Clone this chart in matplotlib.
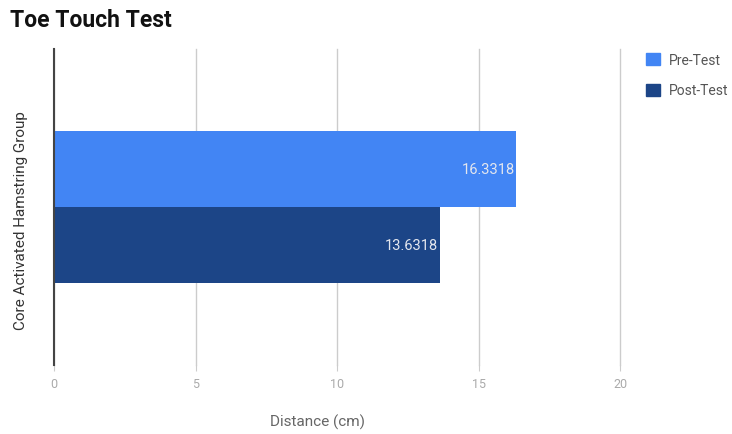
import matplotlib.pyplot as plt
from matplotlib.patches import Patch

plt.rcParams['font.family'] = ['Roboto', 'DejaVu Sans']

group = "Core Activated Hamstring Group"
series = ["Pre-Test", "Post-Test"]
values = [16.3318, 13.6318]
colors = ["#4285f4", "#1c4587"]
xticks = [0, 5, 10, 15, 20]

fig = plt.figure(figsize=(7.32, 4.35), dpi=100)
ax = fig.add_axes([0.0738, 0.159, 0.7732, 0.726])

h = 0.24
offsets = [h / 2, -h / 2]
for name, v, c, off in zip(series, values, colors, offsets):
    ax.barh(off, v, height=h, color=c, zorder=3)
    ax.text(v - 0.05, off, f"{v:g}", ha="right", va="center",
            color="#e3e6ee", fontsize=10.5, zorder=4)

ax.set_xlim(0, 20)
ax.set_ylim(-0.5, 0.5)
ax.set_xticks(xticks)
ax.set_xticklabels([str(t) for t in xticks], color="#aaaaaa", fontsize=9)
ax.tick_params(axis="x", length=4, color="#cccccc", pad=5)
ax.set_yticks([])
ax.grid(axis="x", color="#cccccc", linewidth=1, zorder=0)
# keep the last gridline from being clipped at the axes edge
for gl in ax.get_xgridlines():
    gl.set_clip_on(False)

for s in ["top", "right", "bottom"]:
    ax.spines[s].set_visible(False)
ax.spines["left"].set_color("#444444")
ax.spines["left"].set_linewidth(1.5)
ax.spines["left"].set_zorder(5)

ax.set_xlabel("Distance (cm)", color="#666666", fontsize=11)
ax.xaxis.set_label_coords(0.465, -0.155)
ax.set_ylabel(group, color="#333333", fontsize=11)
ax.yaxis.set_label_coords(-0.046, 0.46)

fig.text(0.014, 0.953, "Toe Touch Test", fontsize=16.5, fontweight="bold",
         va="center", ha="left", color="#111111")

handles = [Patch(facecolor=c, edgecolor=c) for c in colors]
fig.legend(handles, series, loc="upper left", bbox_to_anchor=(0.866, 0.905),
           frameon=False, fontsize=10, labelcolor="#555555",
           handlelength=1.0, handleheight=1.0, labelspacing=1.2,
           handletextpad=0.6)

fig.savefig("out.png", dpi=100)
